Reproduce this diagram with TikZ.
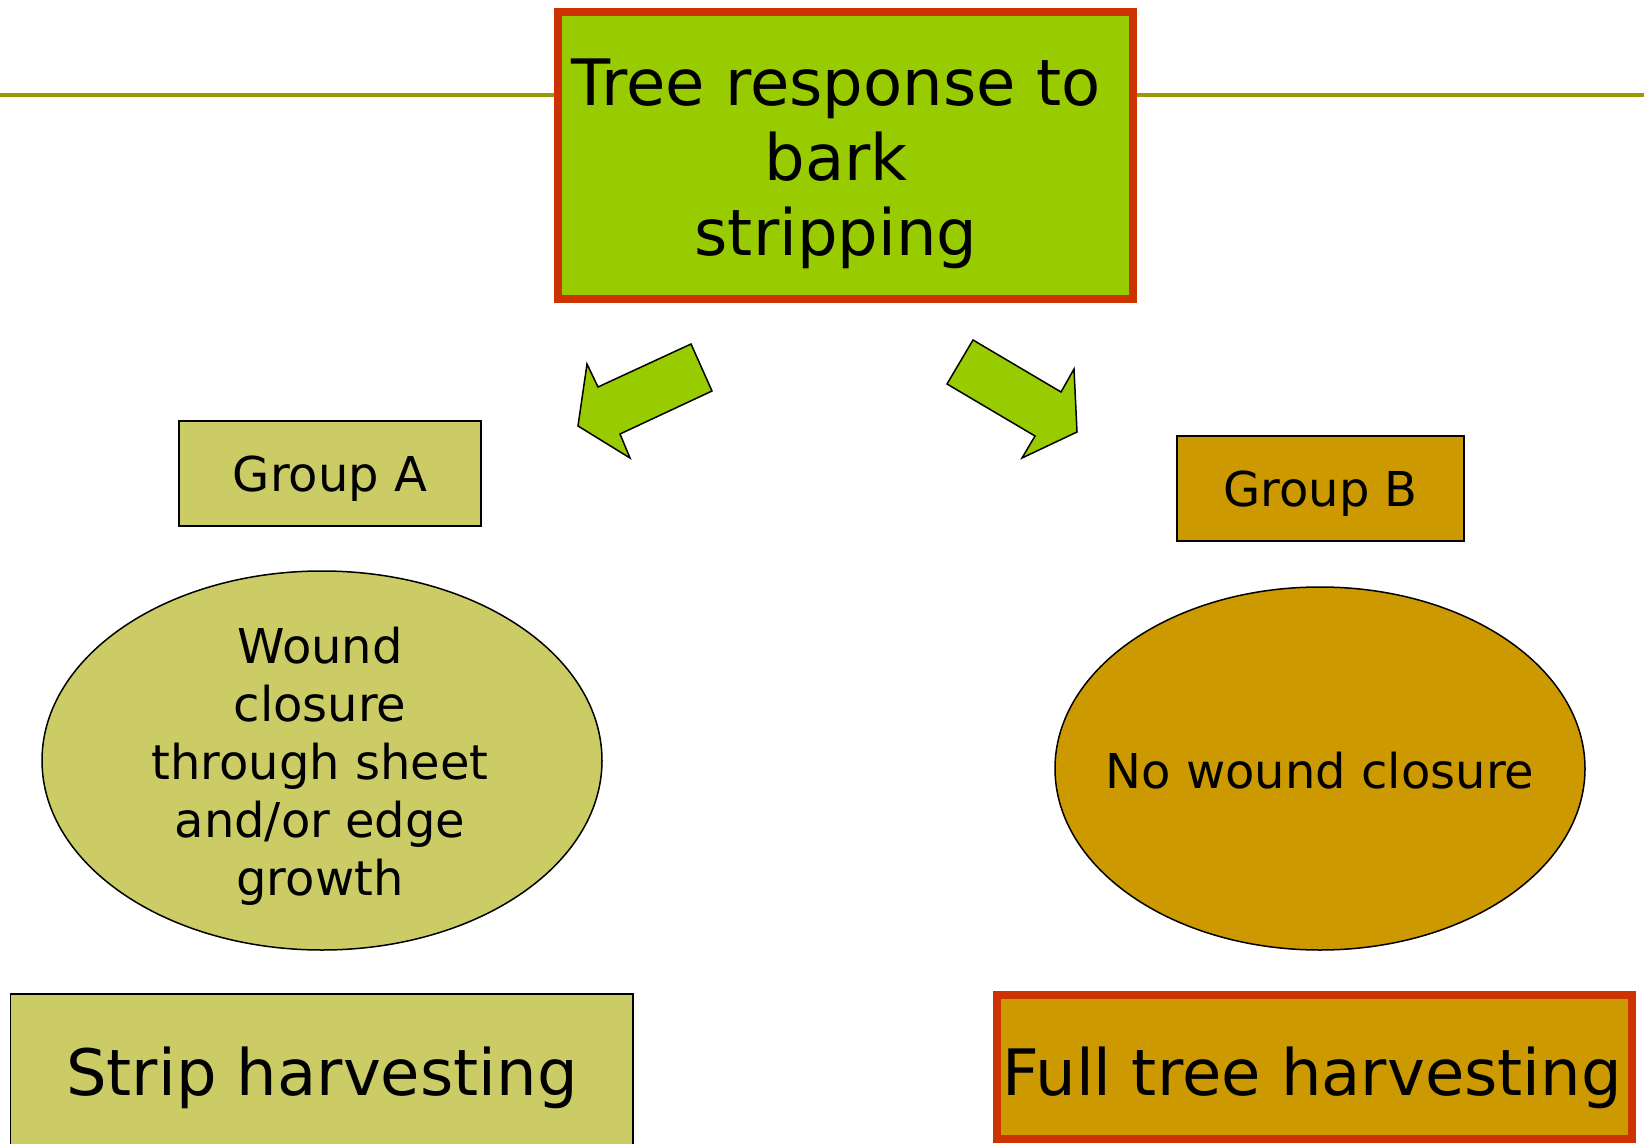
\documentclass[tikz,border=0pt]{standalone}
\usepackage{fontspec}
\setmainfont{DejaVu Sans}
\usepackage{xcolor}
\usetikzlibrary{shapes.geometric}
\definecolor{barkgreen}{RGB}{153,204,0}
\definecolor{framered}{RGB}{204,51,0}
\definecolor{rulegreen}{RGB}{153,153,0}
\definecolor{groupa}{RGB}{204,204,102}
\definecolor{groupb}{RGB}{204,153,0}

\begin{document}
\begin{tikzpicture}[
  x=0.5pt, y=-0.5pt,
  box/.style={draw, line width=0.75pt, inner sep=0pt},
  redbox/.style={draw=framered, line width=4pt, inner sep=0pt},
  grp/.style={box, minimum height=52.5pt, font=\fontsize{24}{29}\selectfont},
  oval/.style={draw, ellipse, line width=0.75pt, inner sep=0pt},
  big/.style={font=\fontsize{32}{37.5}\selectfont, align=center, inner sep=0pt},
  mid/.style={font=\fontsize{24}{29}\selectfont, align=center, inner sep=0pt},
  blockarrow/.style={draw, fill=barkgreen, line width=0.75pt, line join=miter}
]
\useasboundingbox (0,0) rectangle (1649,1144);
\clip (0,0) rectangle (1649,1144);

% Title rule and box
\draw[rulegreen, line width=2pt] (0,95) -- (1644,95);
\node[redbox, fill=barkgreen, minimum width=287.5pt, minimum height=143.5pt] (title) at (845.5,155.5) {};
\node[big] (titletxt) at (836,164) {Tree response to\\bark\\stripping};

% Split arrows
\draw[blockarrow] (691,344) -- (712,391) -- (620,434) -- (630,458) -- (578,426) -- (587,364) -- (598,387) -- cycle;
\draw[blockarrow] (973,340) -- (947,384) -- (1035,436) -- (1022,458) -- (1077,432) -- (1074,369) -- (1061,392) -- cycle;

% Group A
\node[grp, fill=groupa, minimum width=151pt] (grpa) at (330,473.5) {};
\node[mid] (grpatxt) at (330,479) {Group A};
\node[oval, fill=groupa, minimum width=280pt, minimum height=189.5pt] (ovala) at (322,760.5) {};
\node[mid] (ovalatxt) at (320,766) {Wound\\closure\\through sheet\\and/or edge\\growth};
\node[box, fill=groupa, minimum width=311.25pt, minimum height=88pt] (strip) at (321.75,1082) {};
\node[big] (striptxt) at (322,1078) {Strip harvesting};

% Group B
\node[grp, fill=groupb, minimum width=143.5pt] (grpb) at (1320.5,488.5) {};
\node[mid] (grpbtxt) at (1320.5,494) {Group B};
\node[oval, fill=groupb, minimum width=265pt, minimum height=181.5pt] (ovalb) at (1320,768.5) {};
\node[mid] (ovalbtxt) at (1320,771) {No wound closure};
\node[redbox, fill=groupb, minimum width=317.5pt, minimum height=72pt] (full) at (1314.5,1067) {};
\node[big] (fulltxt) at (1312,1078) {Full tree harvesting};
\end{tikzpicture}
\end{document}
